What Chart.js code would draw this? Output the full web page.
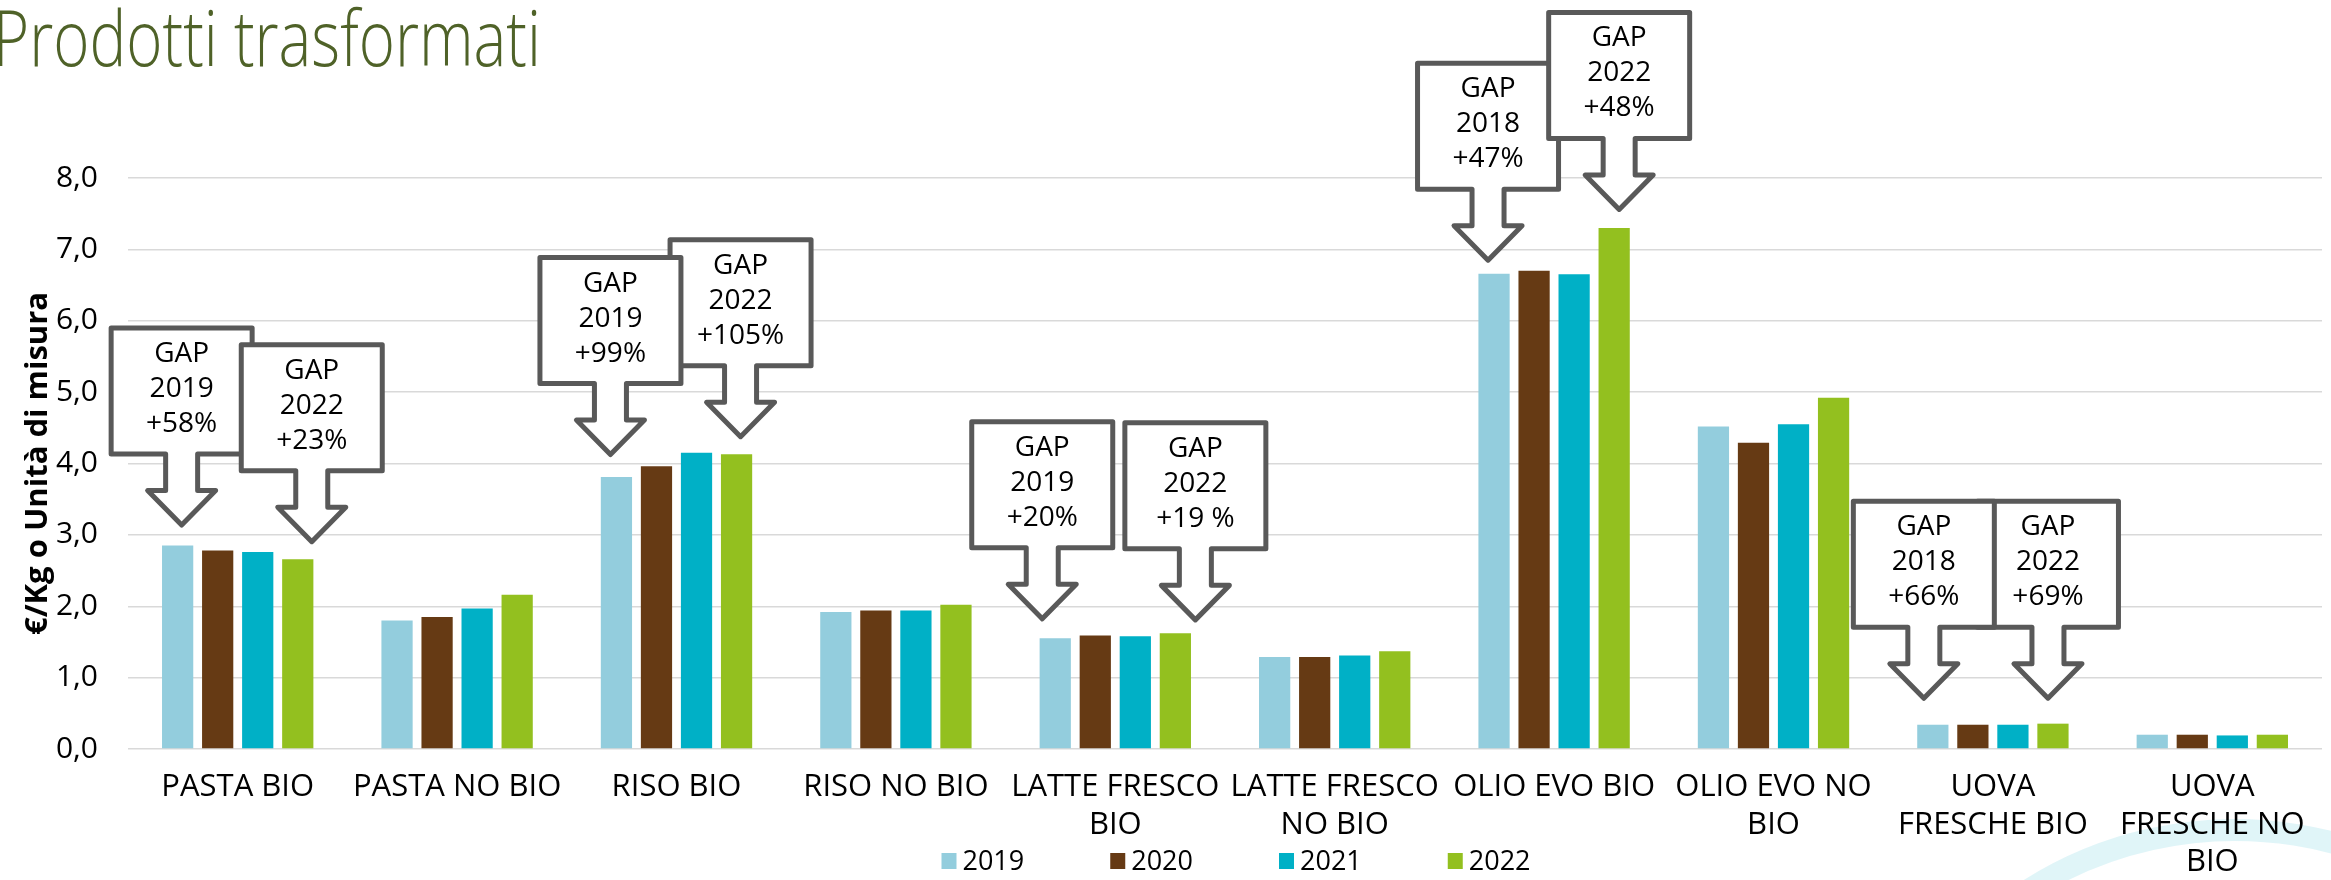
<!DOCTYPE html>
<html>
<head>
<meta charset="utf-8">
<title>Prodotti trasformati</title>
<script src="https://cdn.jsdelivr.net/npm/chart.js@4.4.1/dist/chart.umd.min.js"></script>
<style>
  html, body { margin: 0; padding: 0; background: #fff; }
  #wrap { position: relative; width: 2331px; height: 880px; }
</style>
</head>
<body>
<div id="wrap"><canvas id="prezziChart" width="2331" height="880"></canvas></div>
<script>
// --- dati (€/Kg o unità di misura) ---
const chartTitle = 'Prodotti trasformati';
const categories = [
  ['PASTA BIO'], ['PASTA NO BIO'], ['RISO BIO'], ['RISO NO BIO'],
  ['LATTE FRESCO', 'BIO'], ['LATTE FRESCO', 'NO BIO'], ['OLIO EVO BIO'],
  ['OLIO EVO NO', 'BIO'], ['UOVA', 'FRESCHE BIO'], ['UOVA', 'FRESCHE NO', 'BIO']
];
const years = ['2019', '2020', '2021', '2022'];
const prezzi2019 = [2.85, 1.80, 3.81, 1.92, 1.55, 1.29, 6.66, 4.52, 0.34, 0.20];
const prezzi2020 = [2.78, 1.85, 3.96, 1.94, 1.59, 1.29, 6.70, 4.29, 0.34, 0.20];
const prezzi2021 = [2.76, 1.97, 4.15, 1.94, 1.58, 1.31, 6.65, 4.55, 0.34, 0.19];
const prezzi2022 = [2.66, 2.16, 4.13, 2.02, 1.62, 1.37, 7.30, 4.92, 0.355, 0.20];
const yTickLabels = ['0,0', '1,0', '2,0', '3,0', '4,0', '5,0', '6,0', '7,0', '8,0'];
const yTitle = '€/Kg o Unità di misura';

// frecce "GAP" (l'ordine e' quello di disegno)
const gapCallouts = [
  { cat: 0, year: '2019', text: ['GAP', '2019', '+58%'] },
  { cat: 0, year: '2022', text: ['GAP', '2022', '+23%'] },
  { cat: 2, year: '2022', text: ['GAP', '2022', '+105%'] },
  { cat: 2, year: '2019', text: ['GAP', '2019', '+99%'] },
  { cat: 4, year: '2019', text: ['GAP', '2019', '+20%'] },
  { cat: 4, year: '2022', text: ['GAP', '2022', '+19 %'] },
  { cat: 6, year: '2019', text: ['GAP', '2018', '+47%'] },
  { cat: 6, year: '2022', text: ['GAP', '2022', '+48%'] },
  { cat: 8, year: '2022', text: ['GAP', '2022', '+69%'] },
  { cat: 8, year: '2019', text: ['GAP', '2018', '+66%'] }
];
// spostamento della punta rispetto alla barra (px) e distanza dalla cima
const calloutDx = [4, 14, 4, -6, -13, 20, -6, 5, -5, -9];
const calloutGap = [18, 15, 15, 20, 17, 11, 11, 16, 23, 24];

const colors = ['#93CDDD', '#663A14', '#00B0C6', '#93C01F'];
const FONT = "'Open Sans', 'Noto Sans', sans-serif";

const seriesValues = [prezzi2019, prezzi2020, prezzi2021, prezzi2022];

const sfondoPlugin = {
  id: 'sfondo',
  beforeDraw(chart) {
    const c = chart.ctx;
    c.save();
    // arco decorativo in basso a destra
    c.strokeStyle = 'rgba(0, 176, 198, 0.12)';
    c.lineWidth = 22;
    c.beginPath();
    c.arc(2235, 1215, 385, Math.PI * 1.05, Math.PI * 1.95);
    c.stroke();
    // titolo (compresso in larghezza come nell'originale)
    c.fillStyle = '#4F6228';
    c.font = '300 78px ' + FONT;
    c.textBaseline = 'alphabetic';
    c.textAlign = 'left';
    const w = c.measureText(chartTitle).width;
    c.translate(-7, 66);
    c.scale(548 / w, 1);
    c.fillText(chartTitle, 0, 0);
    c.restore();
  }
};

const legendaPlugin = {
  id: 'legenda',
  afterDraw(chart) {
    const c = chart.ctx;
    c.save();
    c.font = '27px ' + FONT;
    c.textBaseline = 'middle';
    c.textAlign = 'left';
    const box = 15, gapTxt = 6, spacing = 86, y = 861;
    const ds = chart.data.datasets;
    const widths = ds.map(d => box + gapTxt + c.measureText(d.label).width);
    const total = widths.reduce((a, b) => a + b, 0) + spacing * (ds.length - 1);
    let x = 1236 - total / 2;
    ds.forEach((d, i) => {
      c.fillStyle = d.backgroundColor;
      c.fillRect(x, y - 8, box, 16);
      c.fillStyle = '#000';
      c.fillText(d.label, x + box + gapTxt, y + 1);
      x += widths[i] + spacing;
    });
    c.restore();
  }
};

const gapPlugin = {
  id: 'gapFrecce',
  afterDraw(chart) {
    const c = chart.ctx;
    const boxHalf = 70.5, boxH = 126, stemHalf = 16, stemH = 36.5, headHalf = 34, headH = 34.5;
    c.save();
    gapCallouts.forEach((g, i) => {
      const dsIndex = years.indexOf(g.year);
      const bar = chart.getDatasetMeta(dsIndex).data[g.cat];
      const tx = bar.x + calloutDx[i];
      const ty = bar.y - calloutGap[i] - 2.5;
      const top = ty - headH - stemH - boxH;
      const bb = top + boxH, sb = bb + stemH;
      c.beginPath();
      c.moveTo(tx - boxHalf, top);
      c.lineTo(tx + boxHalf, top);
      c.lineTo(tx + boxHalf, bb);
      c.lineTo(tx + stemHalf, bb);
      c.lineTo(tx + stemHalf, sb);
      c.lineTo(tx + headHalf, sb);
      c.lineTo(tx, ty);
      c.lineTo(tx - headHalf, sb);
      c.lineTo(tx - stemHalf, sb);
      c.lineTo(tx - stemHalf, bb);
      c.lineTo(tx - boxHalf, bb);
      c.closePath();
      c.fillStyle = '#fff';
      c.fill();
      c.lineWidth = 5;
      c.lineJoin = 'round';
      c.strokeStyle = '#595959';
      c.stroke();
      c.fillStyle = '#000';
      c.font = '28px ' + FONT;
      c.textAlign = 'center';
      c.textBaseline = 'middle';
      const cy = top + boxH / 2 - 2;
      g.text.forEach((t, k) => c.fillText(t, tx, cy + (k - 1) * 35));
    });
    c.restore();
  }
};

const ctx = document.getElementById('prezziChart').getContext('2d');
const prezziChart = new Chart(ctx, {
  type: 'bar',
  data: {
    labels: categories,
    datasets: years.map((y, i) => ({
      label: y,
      data: seriesValues[i],
      backgroundColor: colors[i],
      borderWidth: 0,
      categoryPercentage: 0.73,
      barPercentage: 0.78
    }))
  },
  options: {
    responsive: false,
    animation: false,
    events: [],
    layout: { padding: { top: 178, right: 9, bottom: 0, left: 0 } },
    plugins: {
      legend: { display: false },
      tooltip: { enabled: false }
    },
    scales: {
      x: {
        grid: { display: false, drawTicks: false },
        border: { display: false },
        ticks: {
          color: '#000',
          font: { family: FONT, size: 31, lineHeight: 1.2 },
          padding: 20,
          maxRotation: 0,
          autoSkip: false
        },
        afterFit(scale) { scale.height = 131; }
      },
      y: {
        min: 0,
        max: 8,
        grid: { color: '#D9D9D9', lineWidth: 1.5, drawTicks: false },
        border: { display: false },
        ticks: {
          stepSize: 1,
          color: '#000',
          padding: 30,
          font: { family: FONT, size: 30 },
          callback: v => yTickLabels[v]
        },
        title: {
          display: true,
          text: yTitle,
          color: '#000',
          font: { family: FONT, size: 31, weight: 'bold' },
          padding: { top: 20, bottom: 0 }
        },
        afterFit(scale) { scale.width = 128; }
      }
    }
  },
  plugins: [sfondoPlugin, gapPlugin, legendaPlugin]
});
</script>
</body>
</html>
